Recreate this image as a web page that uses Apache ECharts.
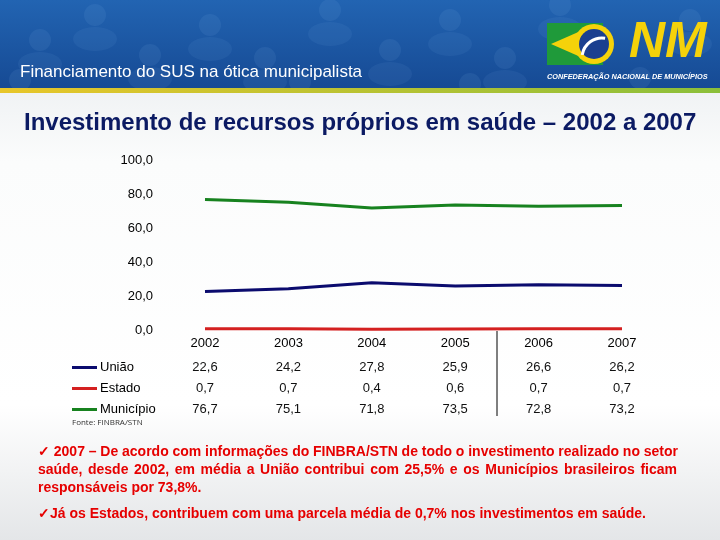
<!DOCTYPE html>
<html>
<head>
<meta charset="utf-8">
<script src="https://cdn.jsdelivr.net/npm/echarts@6/dist/echarts.min.js"></script>
<style>
  html, body { margin: 0; padding: 0; }
  #chart { width: 720px; height: 540px; }
</style>
</head>
<body>
<div id="chart"></div>
<script>
(function(){
    var years = ['2002', '2003', '2004', '2005', '2006', '2007'];
    var uniao = [22.6, 24.2, 27.8, 25.9, 26.6, 26.2];
    var estado = [0.7, 0.7, 0.4, 0.6, 0.7, 0.7];
    var municipio = [76.7, 75.1, 71.8, 73.5, 72.8, 73.2];
    var seriesNames = ['União', 'Estado', 'Município'];
    var yMin = 0, yMax = 100, yStep = 20;

    var FONT = '"Liberation Sans", Arial, sans-serif';
    var RED = '#e60000';

    function fmt(v){ return v.toFixed(1).replace('.', ','); }

    // justify a line of words between x0 and x1
    var ctx = document.createElement('canvas').getContext('2d');
    function lineWords(text, x0, x1, y, justify){
        var size = 14;
        var font = 'bold ' + size + 'px ' + FONT;
        ctx.font = font;
        var words = text.split(' ');
        var out = [];
        if (!justify) {
            out.push({ type: 'text', left: x0, top: y, style: { text: text, font: font, fill: RED } });
            return out;
        }
        var total, gap;
        while (true) {
            font = 'bold ' + size + 'px ' + FONT;
            ctx.font = font;
            total = 0;
            words.forEach(function(w){ total += ctx.measureText(w).width; });
            gap = (x1 - x0 - total) / (words.length - 1);
            if (gap >= 2.5 || size < 11) break;
            size -= 0.25;
        }
        var x = x0;
        words.forEach(function(w){
            out.push({ type: 'text', left: x, top: y, style: { text: w, font: font, fill: RED } });
            x += ctx.measureText(w).width + gap;
        });
        return out;
    }

    // header silhouettes
    var people = [[40,40],[95,15],[150,55],[210,25],[265,58],[330,10],[390,50],[450,20],[505,58],[560,5],[690,20],[20,80],[300,82],[470,84],[640,78]];
    var heads = [];
    people.forEach(function(p){
        heads.push({ type: 'circle', shape: { cx: p[0], cy: p[1], r: 11 }, style: { fill: 'rgba(140,190,240,0.10)' } });
        heads.push({ type: 'ellipse', shape: { cx: p[0], cy: p[1] + 24, rx: 22, ry: 12 }, style: { fill: 'rgba(140,190,240,0.08)' } });
    });

    var graphics = [
        { type: 'rect', z: -10, shape: { x: 0, y: 0, width: 720, height: 540 },
          style: { fill: new echarts.graphic.LinearGradient(0, 0, 0, 1, [
              { offset: 0, color: '#e2e6ea' }, { offset: 0.3, color: '#fbfcfc' },
              { offset: 0.75, color: '#ffffff' }, { offset: 1, color: '#e4e6e8' }]) } },
        { type: 'group', z: -9, clipPath: { type: 'rect', shape: { x: 0, y: 0, width: 720, height: 88 } }, children: [
            { type: 'rect', shape: { x: 0, y: 0, width: 720, height: 88 },
              style: { fill: new echarts.graphic.LinearGradient(0, 0, 0, 1, [
                  { offset: 0, color: '#2264b2' }, { offset: 1, color: '#164a94' }]) } }
        ].concat(heads) },
        { type: 'rect', z: -7, shape: { x: 0, y: 87, width: 720, height: 6 },
          style: { fill: new echarts.graphic.LinearGradient(0, 0, 1, 0, [
              { offset: 0, color: '#e8c62a' }, { offset: 1, color: '#8bbf3a' }]) } },
        { type: 'text', left: 20, top: 64, style: { text: 'Financiamento do SUS na ótica municipalista', font: '17px ' + FONT, fill: '#ffffff' } },
        // logo
        { type: 'rect', shape: { x: 547, y: 23, width: 56, height: 42 }, style: { fill: '#1f9a3a' } },
        { type: 'polygon', shape: { points: [[551, 44], [592, 26], [600, 44], [592, 62]] }, style: { fill: '#f5d20a' } },
        { type: 'circle', shape: { cx: 594, cy: 44, r: 20 }, style: { fill: '#f5d20a' } },
        { type: 'circle', shape: { cx: 594, cy: 44, r: 15 }, style: { fill: '#1b3f8f' } },
        { type: 'arc', shape: { cx: 602, cy: 58, r: 20, startAngle: -Math.PI * 0.95, endAngle: -Math.PI * 0.45 }, style: { stroke: '#ffffff', lineWidth: 3, fill: null } },
        { type: 'text', left: 629, top: 18, style: { text: 'NM', font: 'italic bold 50px ' + FONT, fill: '#f5d20a' } },
        { type: 'text', left: 547, top: 73, style: { text: 'CONFEDERAÇÃO NACIONAL DE MUNICÍPIOS', font: 'italic bold 7.3px ' + FONT, fill: '#ffffff' } },
        // title
        { type: 'text', left: 24, top: 111, style: { text: 'Investimento de recursos próprios em saúde – 2002 a 2007', font: 'bold 24px ' + FONT, fill: '#0b1a63' } },
        // table separator
        { type: 'line', shape: { x1: 497, y1: 331, x2: 497, y2: 416 }, style: { stroke: '#000000', lineWidth: 1 } },
        { type: 'text', left: 72, top: 419, style: { text: 'Fonte: FINBRA/STN', font: '8px "Open Sans", sans-serif', fill: '#333333' } }
    ];

    graphics = graphics
        .concat(lineWords('✓ 2007 – De acordo com informações do FINBRA/STN de todo o investimento realizado no setor', 38, 678, 445, true))
        .concat(lineWords('saúde, desde 2002, em média a União contribui com 25,5% e os Municípios brasileiros ficam', 38, 677, 463, true))
        .concat(lineWords('responsáveis por 73,8%.', 38, 0, 481, false))
        .concat(lineWords('✓Já os Estados, contribuem com uma parcela média de 0,7% nos investimentos em saúde.', 38, 0, 507, false));

    function tableAxis(values, offset){
        return {
            type: 'category', gridIndex: 0, position: 'bottom', offset: offset,
            boundaryGap: false, data: values.map(fmt),
            axisLine: { show: false }, axisTick: { show: false },
            axisLabel: { margin: 5, color: '#111', fontSize: 13, fontFamily: FONT, interval: 0 }
        };
    }

    var myChart = echarts.init(document.getElementById('chart'));
    var option = {
        animation: false,
        color: ['#0b0b6e', '#d42020', '#17821f'],
        graphic: graphics,
        grid: { left: 205, right: 98, top: 160, bottom: 210, containLabel: false },
        legend: {
            data: seriesNames, orient: 'vertical', left: 72, top: 361, padding: 0,
            icon: 'rect', itemWidth: 25, itemHeight: 3, itemGap: 8,
            textStyle: { color: '#000', fontSize: 13, fontFamily: FONT, padding: [0, 0, 0, -2] }
        },
        xAxis: [{
            type: 'category', data: years, boundaryGap: false,
            axisLine: { show: false }, axisTick: { show: false },
            axisLabel: { margin: 7, color: '#000', fontSize: 13, fontFamily: FONT, interval: 0 }
        }, tableAxis(uniao, 26), tableAxis(estado, 47), tableAxis(municipio, 68)],
        yAxis: {
            type: 'value', min: yMin, max: yMax, interval: yStep,
            axisLine: { show: false }, axisTick: { show: false }, splitLine: { show: false },
            axisLabel: { margin: 52, color: '#000', fontSize: 13, fontFamily: FONT, formatter: fmt }
        },
        series: [
            { name: seriesNames[0], type: 'line', data: uniao, symbol: 'none', lineStyle: { width: 3 } },
            { name: seriesNames[1], type: 'line', data: estado, symbol: 'none', lineStyle: { width: 3 } },
            { name: seriesNames[2], type: 'line', data: municipio, symbol: 'none', lineStyle: { width: 3 } }
        ]
    };
    myChart.setOption(option);
    window.addEventListener("resize", function(){
        myChart.resize();
    });
})();
</script>
</body>
</html>
